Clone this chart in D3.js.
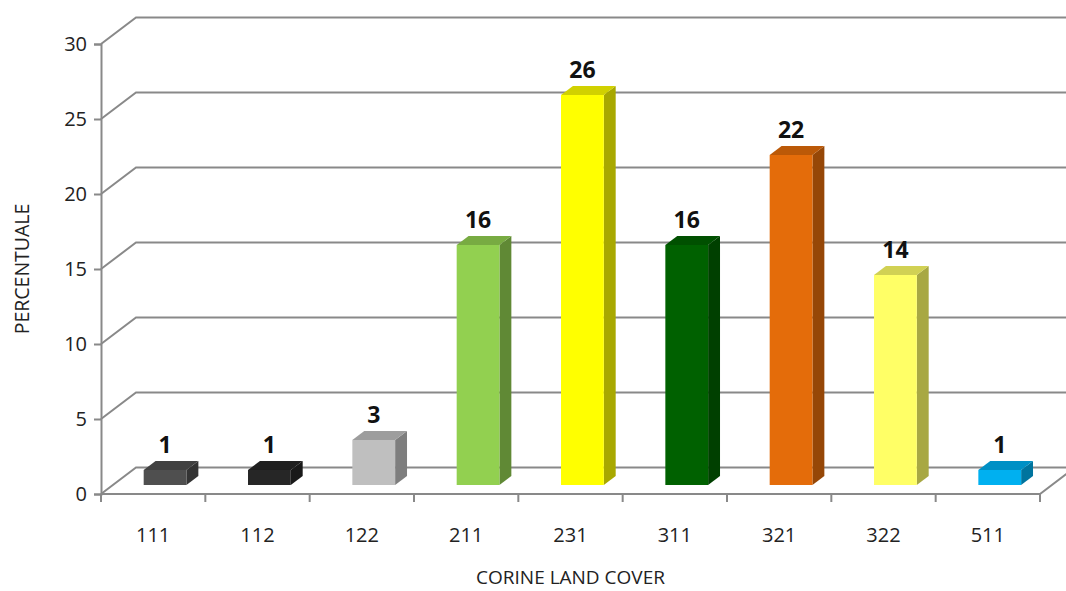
<!DOCTYPE html>
<html>
<head>
<meta charset="utf-8">
<script src="https://cdn.jsdelivr.net/npm/d3@7"></script>
<style>
  body { margin: 0; background: #fff; }
  svg { display: block; font-family: "Open Sans", "Liberation Sans", sans-serif; }
</style>
</head>
<body>
<div id="chart"></div>
<script>
// data
var categories = ['111', '112', '122', '211', '231', '311', '321', '322', '511'];
var values = [1, 1, 3, 16, 26, 16, 22, 14, 1];
var barColors = ['#4f4f4f', '#262626', '#bfbfbf', '#92d050', '#ffff00', '#006100', '#e46c0a', '#ffff66', '#00b0f0'];
var yTicks = [0, 5, 10, 15, 20, 25, 30];

var width = 1066, height = 591;

// plot box (front plane) and depth offset of the back wall
// (window.top is read-only, so no plain "top" here)
var plotLeft = 101, plotRight = 1040, plotBottom = 494, plotTop = 44;
var DX = 35, DY = -26.5;
var gridColor = '#898989';

var svg = d3.select('#chart').append('svg')
    .attr('width', width)
    .attr('height', height);

var x = d3.scaleBand().domain(categories).range([plotLeft, plotRight]);
var y = d3.scaleLinear().domain([0, 30]).range([plotBottom, plotTop]);

// shade a colour by multiplying its channels
function shade(col, k) {
    var c = d3.rgb(col);
    return d3.rgb(c.r * k, c.g * k, c.b * k).toString();
}

// back wall gridlines, each with its diagonal from the front axis
var grid = svg.append('g').attr('class', 'grid');
grid.selectAll('path').data(yTicks).enter().append('path')
    .attr('d', function(v) {
        return d3.line()([[plotLeft, y(v)], [plotLeft + DX, y(v) + DY], [plotRight + DX, y(v) + DY]]);
    })
    .attr('fill', 'none')
    .attr('stroke', gridColor)
    .attr('stroke-width', 2);

// floor front edge and right edge
grid.append('path')
    .attr('d', d3.line()([[plotLeft, plotBottom], [plotRight, plotBottom], [plotRight + DX, plotBottom + DY]]))
    .attr('fill', 'none')
    .attr('stroke', gridColor)
    .attr('stroke-width', 2);

// y axis
var yAxis = svg.append('g')
    .attr('transform', 'translate(' + plotLeft + ',0)')
    .call(d3.axisLeft(y).tickValues(yTicks).tickSize(7).tickPadding(7));
yAxis.select('.domain').attr('stroke', gridColor).attr('stroke-width', 2);
yAxis.selectAll('.tick line').attr('stroke', gridColor).attr('stroke-width', 2);
yAxis.selectAll('.tick text')
    .attr('font-size', 20)
    .attr('fill', '#222')
    .attr('font-family', '"Open Sans", sans-serif');

// category ticks on band edges
var edges = categories.map(function(c) { return x(c); }).concat([plotRight]);
svg.append('g').selectAll('line').data(edges).enter().append('line')
    .attr('x1', function(d) { return d; })
    .attr('x2', function(d) { return d; })
    .attr('y1', plotBottom)
    .attr('y2', plotBottom + 8)
    .attr('stroke', gridColor)
    .attr('stroke-width', 2);

svg.append('g').selectAll('text').data(categories).enter().append('text')
    .attr('x', function(c) { return x(c) + x.bandwidth() / 2; })
    .attr('y', 542)
    .attr('text-anchor', 'middle')
    .attr('font-size', 20)
    .attr('fill', '#222')
    .text(function(c) { return c; });

// 3d bars: front face sits a third of the way into the depth
var depthFront = 0.34, depthSize = 0.34;
var bw = x.bandwidth() * 0.41;
var ox = DX * depthFront, oy = DY * depthFront;
var dx = DX * depthSize, dy = DY * depthSize;

var bars = svg.append('g').selectAll('g').data(categories).enter().append('g');

function frontX(c) { return x(c) + x.bandwidth() / 2 + ox - bw / 2; }

bars.append('path') // side
    .attr('d', function(c, i) {
        var x0 = frontX(c) + bw, y0 = plotBottom + oy, y1 = y(values[i]) + oy;
        return d3.line()([[x0, y0], [x0, y1], [x0 + dx, y1 + dy], [x0 + dx, y0 + dy]]) + 'Z';
    })
    .attr('fill', function(c, i) { return shade(barColors[i], 0.66); });

bars.append('path') // top
    .attr('d', function(c, i) {
        var x0 = frontX(c), y1 = y(values[i]) + oy;
        return d3.line()([[x0, y1], [x0 + bw, y1], [x0 + bw + dx, y1 + dy], [x0 + dx, y1 + dy]]) + 'Z';
    })
    .attr('fill', function(c, i) { return shade(barColors[i], 0.82); });

bars.append('rect') // front
    .attr('x', frontX)
    .attr('y', function(c, i) { return y(values[i]) + oy; })
    .attr('width', bw)
    .attr('height', function(c, i) { return y(0) - y(values[i]); })
    .attr('fill', function(c, i) { return barColors[i]; });

bars.append('text')
    .attr('x', function(c) { return frontX(c) + bw / 2; })
    .attr('y', function(c, i) { return y(values[i]) + oy - 17; })
    .attr('text-anchor', 'middle')
    .attr('font-size', 23)
    .attr('font-weight', 'bold')
    .attr('fill', '#111')
    .text(function(c, i) { return values[i]; });

// axis titles
svg.append('text')
    .attr('x', (plotLeft + plotRight) / 2)
    .attr('y', 584)
    .attr('text-anchor', 'middle')
    .attr('font-size', 19)
    .attr('fill', '#222')
    .text('CORINE LAND COVER');

svg.append('text')
    .attr('transform', 'translate(29,' + (plotTop + plotBottom) / 2 + ') rotate(-90)')
    .attr('text-anchor', 'middle')
    .attr('font-size', 19.5)
    .attr('fill', '#222')
    .text('PERCENTUALE');
</script>
</body>
</html>
